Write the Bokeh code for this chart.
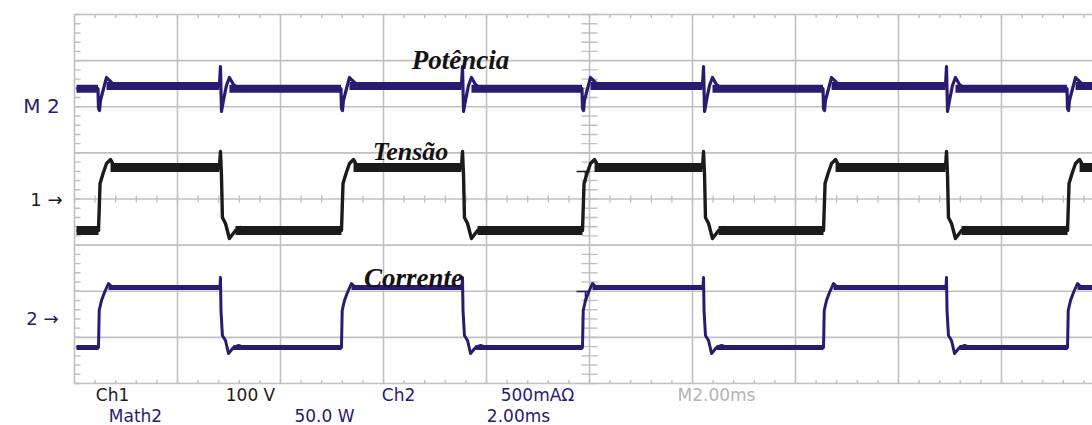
from bokeh.plotting import figure
from bokeh.models import Range1d, Label
from bokeh.embed import file_html
from bokeh.resources import INLINE

# ---------------- data (in screen divisions: x 0..10, y -4..4) ----------------
rise_times = [0.233, 2.592, 4.932, 7.272, 9.641]
fall_times = [1.417, 3.767, 6.107, 8.466]

# Ch1 - Tensão (voltage)
v_high, v_low = 0.683, -0.683
v_rise_dx = [0.0, 0.015, 0.044, 0.078, 0.117, 0.165, 0.214]
v_rise_y = [-0.683, 0.336, 0.553, 0.770, 0.856, 0.661, 0.705]
v_fall_dx = [-0.010, 0.0, 0.010, 0.019, 0.049, 0.087, 0.146, 0.194, 0.252]
v_fall_y = [0.683, 1.030, 0.509, -0.401, -0.531, -0.856, -0.683, -0.618, -0.683]

# Ch2 - Corrente (current)
i_high, i_low = -1.919, -3.220
i_rise_dx = [0.0, 0.007, 0.029, 0.058, 0.097, 0.146, 0.194]
i_rise_y = [-3.220, -2.417, -2.201, -2.027, -1.832, -1.940, -1.919]
i_fall_dx = [-0.005, 0.0, 0.005, 0.019, 0.049, 0.078, 0.126, 0.175, 0.233]
i_fall_y = [-1.919, -1.702, -2.417, -2.959, -3.068, -3.350, -3.220, -3.176, -3.220]

# Math2 - Potência (power)
p_after_rise, p_after_fall = 2.450, 2.390
p_rise_dx = [-0.005, 0.0, 0.010, 0.019, 0.039, 0.078, 0.126, 0.175]
p_rise_y = [2.396, 1.962, 1.919, 2.136, 2.309, 2.634, 2.526, 2.450]
p_fall_dx = [-0.010, 0.0, 0.010, 0.029, 0.058, 0.087, 0.126, 0.175]
p_fall_y = [2.450, 2.873, 1.897, 2.136, 2.461, 2.634, 2.482, 2.390]

trace_labels = ["Potência", "Tensão", "Corrente"]
row1_texts = ["Ch1", "100 V", "Ch2", "500mAΩ", "M2.00ms"]
row2_texts = ["Math2", "50.0 W", "2.00ms"]
marker_texts = ["M 2", "1 →", "2 →"]

# ---------------- colours ----------------
NAVY = "#2a1a70"
BLACK = "#1c1a1a"
GRID = "#c0c0c0"
GRAY_TXT = "#b4b4b4"

# ---------------- geometry helpers (picture pixel -> division) ----------------
DIVX, DIVY = 103.0, 46.125
def X(px):
    return (px - 74.0) / DIVX
def Y(py):
    return (198.5 - py) / DIVY

W, H = 1092, 425
p = figure(width=W, height=H, x_range=Range1d(X(0), X(W)),
           y_range=Range1d(Y(H), Y(0)), output_backend="svg",
           toolbar_location=None, x_axis_type=None, y_axis_type=None,
           min_border=0, min_border_left=0, min_border_right=0,
           min_border_top=0, min_border_bottom=0)
p.outline_line_color = None
p.grid.visible = False
p.background_fill_color = "white"
p.border_fill_color = "white"

# ---------------- graticule ----------------
gx = list(range(0, 11))
gy = list(range(-4, 5))
p.segment(x0=gx, y0=[-4] * len(gx), x1=gx, y1=[4] * len(gx),
          line_color=GRID, line_width=1.6)
p.segment(x0=[0] * len(gy), y0=gy, x1=[10] * len(gy), y1=gy,
          line_color=GRID, line_width=1.6)

mx = [k * 0.2 for k in range(0, 51)]
my = [-4 + k * 0.2 for k in range(0, 41)]
tv = 3.5 / DIVY
th = 6.0 / DIVX
p.segment(x0=mx, y0=[4] * len(mx), x1=mx, y1=[4 - tv] * len(mx), line_color=GRID, line_width=1.4)
p.segment(x0=mx, y0=[-4] * len(mx), x1=mx, y1=[-4 + tv] * len(mx), line_color=GRID, line_width=1.4)
p.segment(x0=mx, y0=[-tv] * len(mx), x1=mx, y1=[tv] * len(mx), line_color=GRID, line_width=1.4)
p.segment(x0=[0] * len(my), y0=my, x1=[th] * len(my), y1=my, line_color=GRID, line_width=1.4)
p.segment(x0=[5 - 8 / DIVX] * len(my), y0=my, x1=[5 + 8 / DIVX] * len(my), y1=my,
          line_color=GRID, line_width=1.4)

# ---------------- traces ----------------
def build(start_level, rdx, ry, fdx, fy, rlev, flev, x0=0.02, x_end=10.0):
    edges = sorted([(t, "r") for t in rise_times] + [(t, "f") for t in fall_times])
    xs, ys = [x0], [start_level]
    bands = []
    cur_start, cur_level = x0, start_level
    for t, kind in edges:
        dx, yy = (rdx, ry) if kind == "r" else (fdx, fy)
        bands.append((cur_start, t + dx[0], cur_level))
        for d, v in zip(dx, yy):
            xs.append(t + d)
            ys.append(v)
        cur_start = t + dx[-3]
        cur_level = rlev if kind == "r" else flev
    bands.append((cur_start, x_end, cur_level))
    xs.append(x_end)
    ys.append(cur_level)
    return xs, ys, bands

def draw(xs, ys, bands, color, thin, thick):
    p.line(xs, ys, line_color=color, line_width=thin, line_join="round")
    p.segment(x0=[b[0] for b in bands], y0=[b[2] for b in bands],
              x1=[b[1] for b in bands], y1=[b[2] for b in bands],
              line_color=color, line_width=thick, line_cap="butt")

vx, vy, vb = build(v_low, v_rise_dx, v_rise_y, v_fall_dx, v_fall_y, v_high, v_low)
ix, iy, ib = build(i_low, i_rise_dx, i_rise_y, i_fall_dx, i_fall_y, i_high, i_low)
px_, py_, pb = build(p_after_fall, p_rise_dx, p_rise_y, p_fall_dx, p_fall_y, p_after_rise, p_after_fall)

draw(px_, py_, pb, NAVY, 3.2, 8)
draw(vx, vy, vb, BLACK, 3.4, 9)
draw(ix, iy, ib, NAVY, 3.0, 5)

# trigger-position marks
p.line([X(576), X(589)], [Y(171), Y(171)], line_color=BLACK, line_width=1.6)
p.line([X(585), X(585)], [Y(171), Y(182)], line_color=BLACK, line_width=1.6)
p.line([X(576), X(589)], [Y(291), Y(291)], line_color=NAVY, line_width=1.6)
p.line([X(585), X(585)], [Y(291), Y(300)], line_color=NAVY, line_width=1.6)

# ---------------- texts ----------------
def lab(text, px, py, color, size, font="DejaVu Sans", style="normal",
        align="center", baseline="middle"):
    p.add_layout(Label(x=X(px), y=Y(py), text=text, text_color=color,
                       text_font=font, text_font_style=style,
                       text_font_size=size, text_align=align,
                       text_baseline=baseline))

lab(trace_labels[0], 460, 59, "#161212", "27px", "Liberation Serif", "bold italic", baseline="alphabetic")
lab(trace_labels[1], 410, 151, "#161212", "26px", "Liberation Serif", "bold italic", baseline="alphabetic")
lab(trace_labels[2], 413, 277, "#161212", "27px", "Liberation Serif", "bold italic", baseline="alphabetic")

lab(marker_texts[0], 41, 105, NAVY, "20px")
lab(marker_texts[1], 46, 199, BLACK, "18px")
lab(marker_texts[2], 42, 318, NAVY, "18px")

row1_cx = [112, 250, 398, 537, 716]
row1_col = [BLACK, BLACK, NAVY, NAVY, GRAY_TXT]
for t, cx, c in zip(row1_texts, row1_cx, row1_col):
    lab(t, cx, 394, c, "17px", baseline="alphabetic")
row2_cx = [135, 324, 518]
for t, cx in zip(row2_texts, row2_cx):
    lab(t, cx, 415, NAVY, "17px", baseline="alphabetic")

open("out.html", "w").write(file_html(p, INLINE))
